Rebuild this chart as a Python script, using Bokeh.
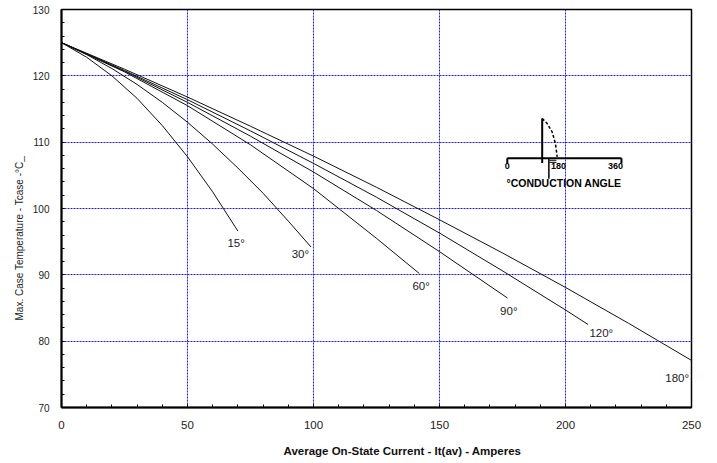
from bokeh.plotting import figure
from bokeh.models import Range1d, SingleIntervalTicker, FixedTicker, Label, Title
from bokeh.embed import file_html
from bokeh.resources import INLINE

# ---- data ----
x15 = [0, 10, 20, 30, 40, 50, 60, 70]
y15 = [125, 122.8, 120.0, 116.6, 112.5, 107.8, 102.5, 96.6]
x30 = [0, 10, 20, 30, 40, 50, 60, 70, 80, 90, 99]
y30 = [125, 123.2, 121.1, 118.7, 116.0, 113.0, 109.7, 106.1, 102.3, 98.1, 94.2]
x60 = [0, 25, 50, 75, 100, 125, 142]
y60 = [125, 120.6, 115.5, 109.6, 103.0, 95.5, 90.2]
x90 = [0, 25, 50, 75, 100, 125, 150, 177]
y90 = [125, 120.7, 116.0, 110.9, 105.5, 99.7, 93.5, 86.5]
x120 = [0, 25, 50, 75, 100, 125, 150, 175, 200, 209]
y120 = [125, 120.8, 116.4, 111.7, 106.8, 101.7, 96.3, 90.6, 84.7, 82.5]
x180 = [0, 25, 50, 75, 100, 125, 150, 175, 200, 225, 250]
y180 = [125, 121.0, 116.8, 112.4, 107.9, 103.2, 98.3, 93.3, 88.1, 82.7, 77.1]

curve_labels = ["15°", "30°", "60°", "90°", "120°", "180°"]
curve_label_x = [69.3, 94.8, 142.7, 177.5, 214.2, 244.3]
curve_label_y = [94.8, 93.1, 88.3, 84.5, 81.2, 74.5]

x_ticks_grid = [50, 100, 150, 200]
y_ticks_grid = [80, 90, 100, 110, 120]

x_title = "Average On-State Current - It(av) - Amperes"
y_title = "Max. Case Temperature - Tcase -°C_"

# conduction-angle inset (drawn in data units)
inset_base_x = [176.9, 222.2]
inset_base_y = [107.57, 107.57]
inset_wave_x = [190.75, 192.7, 194.7, 196.0, 196.7]
inset_wave_y = [113.57, 112.81, 111.55, 109.80, 107.78]
inset_texts = ["0", "180", "360"]
inset_text_x = [176.9, 197.2, 219.8]

p = figure(width=717, height=463, output_backend="svg", toolbar_location=None,
           x_range=Range1d(0, 250), y_range=Range1d(70, 130),
           min_border_left=61, min_border_right=26, min_border_top=9,
           min_border_bottom=56)
p.styles = {"position": "absolute", "top": "0px", "left": "0px"}
p.background_fill_color = "white"
p.border_fill_color = "white"
p.outline_line_color = "black"
p.outline_line_width = 1.5

# axes
p.xaxis.ticker = SingleIntervalTicker(interval=50, num_minor_ticks=5)
p.yaxis.ticker = SingleIntervalTicker(interval=10, num_minor_ticks=5)
for ax in (p.xaxis[0], p.yaxis[0]):
    ax.axis_line_color = "black"
    ax.axis_line_width = 2
    ax.major_tick_in = 3
    ax.major_tick_out = 0
    ax.minor_tick_in = 3
    ax.minor_tick_out = 0
    ax.major_tick_line_color = "black"
    ax.minor_tick_line_color = "black"
    ax.major_label_text_color = "#222222"
    ax.major_label_text_font = "Liberation Sans"
p.xaxis.major_label_text_font_size = "11.5px"
p.xaxis.major_label_standoff = 13
p.yaxis.major_label_text_font_size = "10px"
p.yaxis.major_label_standoff = 12

# grids
p.xgrid.ticker = FixedTicker(ticks=x_ticks_grid)
p.ygrid.ticker = FixedTicker(ticks=y_ticks_grid)
for g in (p.xgrid[0], p.ygrid[0]):
    g.grid_line_color = "#1a1aff"
    g.grid_line_dash = "2 1"
    g.grid_line_width = 1

# axis titles (side titles, so they can be offset like the original)
p.add_layout(Title(text=" ", text_font_size="1px", standoff=10), "below")  # spacer
p.add_layout(Title(text=x_title, align="left", offset=222, standoff=0, vertical_align="top",
                   text_font="Liberation Sans", text_font_style="bold",
                   text_font_size="11.5px", text_color="#111111"), "below")
p.add_layout(Title(text=y_title, align="left", offset=87, standoff=9,
                   text_font="Liberation Sans", text_font_style="normal",
                   text_font_size="10px", text_color="#222222"), "left")

# curves
for xs, ys in [(x15, y15), (x30, y30), (x60, y60), (x90, y90), (x120, y120), (x180, y180)]:
    p.line(xs, ys, line_color="#111111", line_width=1)

for t, lx, ly in zip(curve_labels, curve_label_x, curve_label_y):
    p.add_layout(Label(x=lx, y=ly, text=t, text_align="center", text_baseline="middle",
                       text_font="Liberation Sans", text_font_size="11.5px",
                       text_color="#222222"))

# inset
p.line(inset_base_x, inset_base_y, line_color="black", line_width=2)
p.segment(x0=[inset_base_x[0], inset_base_x[1]], y0=[107.57, 107.57],
          x1=[inset_base_x[0], inset_base_x[1]], y1=[106.8, 106.8],
          line_color="black", line_width=2)
p.segment(x0=[inset_wave_x[0]], y0=[inset_wave_y[0]], x1=[inset_wave_x[0]], y1=[106.86],
          line_color="black", line_width=2)
p.line(inset_wave_x, inset_wave_y, line_color="black", line_width=1.5, line_dash="3 2")
p.segment(x0=[193.4], y0=[107.57], x1=[193.4], y1=[104.5], line_color="black", line_width=1.5)
p.segment(x0=[193.6, 193.6], y0=[107.27, 106.96], x1=[196.4, 196.4], y1=[107.27, 106.96],
          line_color="black", line_width=1)
for t, tx in zip(inset_texts, inset_text_x):
    p.add_layout(Label(x=tx, y=106.4, text=t, text_align="center", text_baseline="middle",
                       text_font="Liberation Sans", text_font_style="bold",
                       text_font_size="9px", text_color="black"))
p.add_layout(Label(x=199.4, y=103.84, text="°CONDUCTION ANGLE", text_align="center",
                   text_baseline="middle", text_font="Liberation Sans",
                   text_font_style="bold", text_font_size="10.5px", text_color="black"))

open("out.html", "w").write(file_html(p, INLINE))
